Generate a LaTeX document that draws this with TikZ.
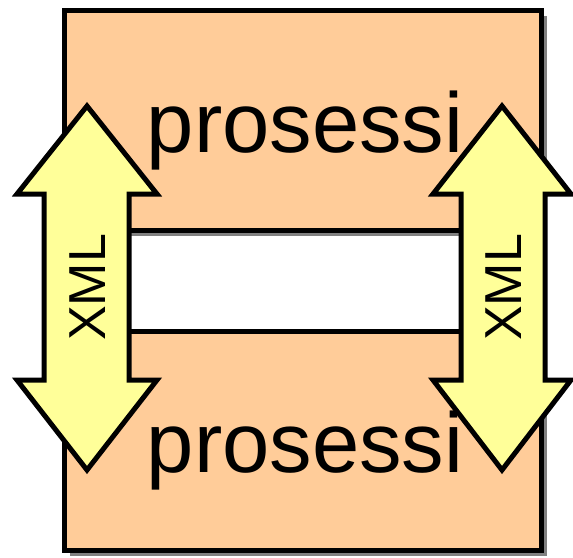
\documentclass[tikz,border=0pt]{standalone}
\usepackage{fontspec}
\setmainfont{Liberation Sans}
\usetikzlibrary{positioning}
\definecolor{peach}{RGB}{255,204,153}
\definecolor{paleyellow}{RGB}{255,255,153}
\definecolor{shadowgray}{RGB}{128,128,128}
\tikzset{
  procbox/.style={draw=black, line width=5pt, fill=peach},
  boxshadow/.style={fill=shadowgray},
  xmlarrow/.style={draw=black, line width=5pt, fill=paleyellow, line join=miter},
  proclabel/.style={font=\fontsize{85}{90}\selectfont, inner sep=0pt, anchor=base},
  xmllabel/.style={font=\fontsize{52}{56}\selectfont, inner sep=0pt, rotate=90}
}

\begin{document}
\begin{tikzpicture}[x=1pt, y=-1pt]
\useasboundingbox (0,0) rectangle (573,557);
% shadows
\fill[boxshadow] (70,16) rectangle (547,236);
\fill[boxshadow] (70,337) rectangle (547,556);
% process boxes
\draw[procbox] (64,10) rectangle (541,230);
\draw[procbox] (64,331) rectangle (541,550);
\node[proclabel] (upperproc) at (305,152) {prosessi};
\node[proclabel] (lowerproc) at (305,472) {prosessi};
% xml arrows
\draw[xmlarrow] (87,106) -- (157,194) -- (129,194) -- (129,380) -- (157,380) -- (87,470)
  -- (17,380) -- (44,380) -- (44,194) -- (17,194) -- cycle;
\draw[xmlarrow] (502,106) -- (571,194) -- (545,194) -- (545,380) -- (571,380) -- (502,470)
  -- (433,380) -- (461,380) -- (461,194) -- (433,194) -- cycle;
\node[xmllabel] (leftxml) at (88,287.5) {XML};
\node[xmllabel] (rightxml) at (504,287.5) {XML};
\end{tikzpicture}
\end{document}
